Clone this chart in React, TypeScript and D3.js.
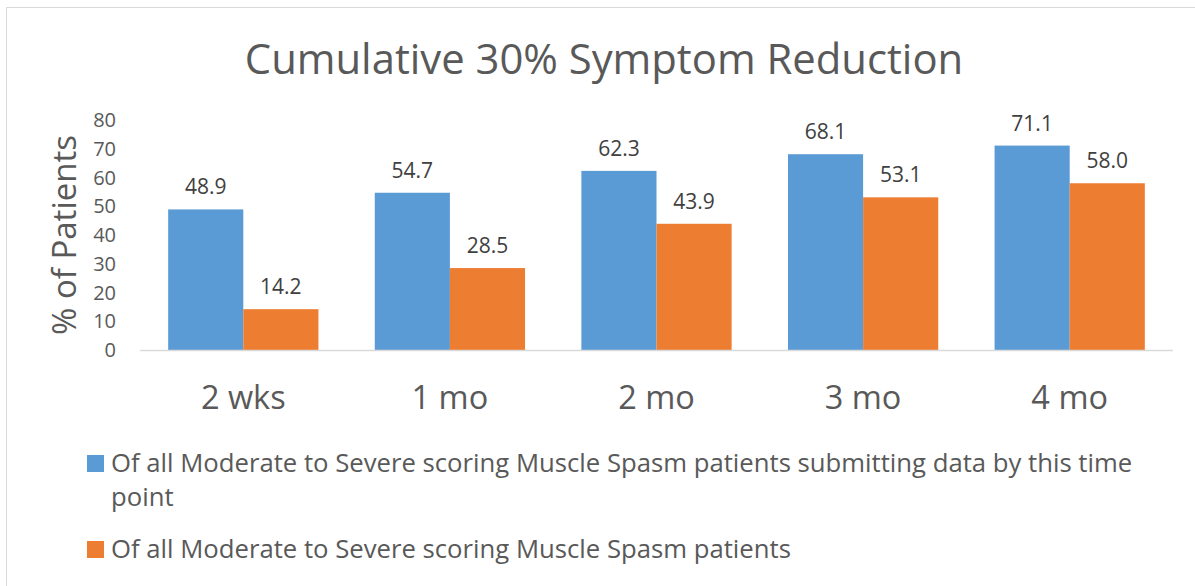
import React, { useEffect, useRef } from "react";
import * as d3 from "d3";

const categories = ["2 wks", "1 mo", "2 mo", "3 mo", "4 mo"];
const seriesNames = [
  "Of all Moderate to Severe scoring Muscle Spasm patients submitting data by this time point",
  "Of all Moderate to Severe scoring Muscle Spasm patients",
];
const seriesA = [48.9, 54.7, 62.3, 68.1, 71.1];
const seriesB = [14.2, 28.5, 43.9, 53.1, 58.0];
const yTicks = [0, 10, 20, 30, 40, 50, 60, 70, 80];
const colors = ["#5B9BD5", "#ED7D31"];
const titleText = "Cumulative 30% Symptom Reduction";
const yTitle = "% of Patients";

const W = 1195;
const H = 586;
const FONT = "'Open Sans', sans-serif";
const TEXT = "#595959";

export default function App() {
  const ref = useRef<SVGSVGElement>(null);
  useEffect(() => {
    const svg = d3.select(ref.current);
    svg.selectAll("*").remove();

    // border (top and left visible)
    svg.append("rect").attr("x", 6.5).attr("y", 7.5).attr("width", W + 20).attr("height", H + 20)
      .attr("fill", "#fff").attr("stroke", "#D9D9D9").attr("stroke-width", 1);

    const x = d3.scaleBand<string>().domain(categories).range([140, 1173]).padding(0);
    const y = d3.scaleLinear().domain([0, 80]).range([350, 120]);
    const step = x.bandwidth();
    const barW = step / 2.75;
    const off = (step - 2 * barW) / 2;

    svg.append("text").attr("x", 604).attr("y", 74).attr("text-anchor", "middle")
      .attr("font-family", FONT).attr("font-size", 41.8).attr("fill", TEXT).text(titleText);

    // y ticks
    svg.append("g").selectAll("text").data(yTicks).join("text")
      .attr("x", 116).attr("y", (d) => y(d) + 7).attr("text-anchor", "end")
      .attr("font-family", FONT).attr("font-size", 20).attr("fill", TEXT).text((d) => d);

    svg.append("text").attr("transform", `translate(76,235) rotate(-90)`).attr("text-anchor", "middle")
      .attr("font-family", FONT).attr("font-size", 33).attr("fill", TEXT).text(yTitle);

    const series = [seriesA, seriesB];
    series.forEach((vals, si) => {
      const g = svg.append("g");
      g.selectAll("rect").data(vals).join("rect")
        .attr("x", (_, i) => x(categories[i])! + off + si * barW)
        .attr("y", (d) => y(d))
        .attr("width", barW)
        .attr("height", (d) => y(0) - y(d))
        .attr("fill", colors[si]);
      g.selectAll("text").data(vals).join("text")
        .attr("x", (_, i) => x(categories[i])! + off + si * barW + barW / 2)
        .attr("y", (d) => y(d) - 15)
        .attr("text-anchor", "middle")
        .attr("font-family", FONT).attr("font-size", 21).attr("fill", "#404040")
        .text((d) => d.toFixed(1));
    });

    svg.append("line").attr("x1", 140).attr("x2", 1173).attr("y1", 350.5).attr("y2", 350.5)
      .attr("stroke", "#D9D9D9").attr("stroke-width", 1.5);

    svg.append("g").selectAll("text").data(categories).join("text")
      .attr("x", (d) => x(d)! + step / 2).attr("y", 409).attr("text-anchor", "middle")
      .attr("font-family", FONT).attr("font-size", 32.5).attr("fill", TEXT).text((d) => d);

    // legend
    const legY = [455, 541];
    seriesNames.forEach((name, si) => {
      svg.append("rect").attr("x", 87).attr("y", legY[si]).attr("width", 17).attr("height", 17).attr("fill", colors[si]);
      const t = svg.append("text").attr("x", 111).attr("y", legY[si] + 17)
        .attr("font-family", FONT).attr("font-size", 25.7).attr("fill", TEXT);
      const words = name.split(" ");
      let line: string[] = [];
      let tspan = t.append("tspan").attr("x", 111).attr("dy", 0);
      words.forEach((w) => {
        line.push(w);
        tspan.text(line.join(" "));
        if ((tspan.node() as SVGTSpanElement).getComputedTextLength() > 1060 && line.length > 1) {
          line.pop();
          tspan.text(line.join(" "));
          line = [w];
          tspan = t.append("tspan").attr("x", 111).attr("dy", 34).text(w);
        }
      });
    });
  }, []);
  return <svg ref={ref} width={W} height={H} style={{ position: "absolute", left: 0, top: 0, background: "#fff" }} />;
}
